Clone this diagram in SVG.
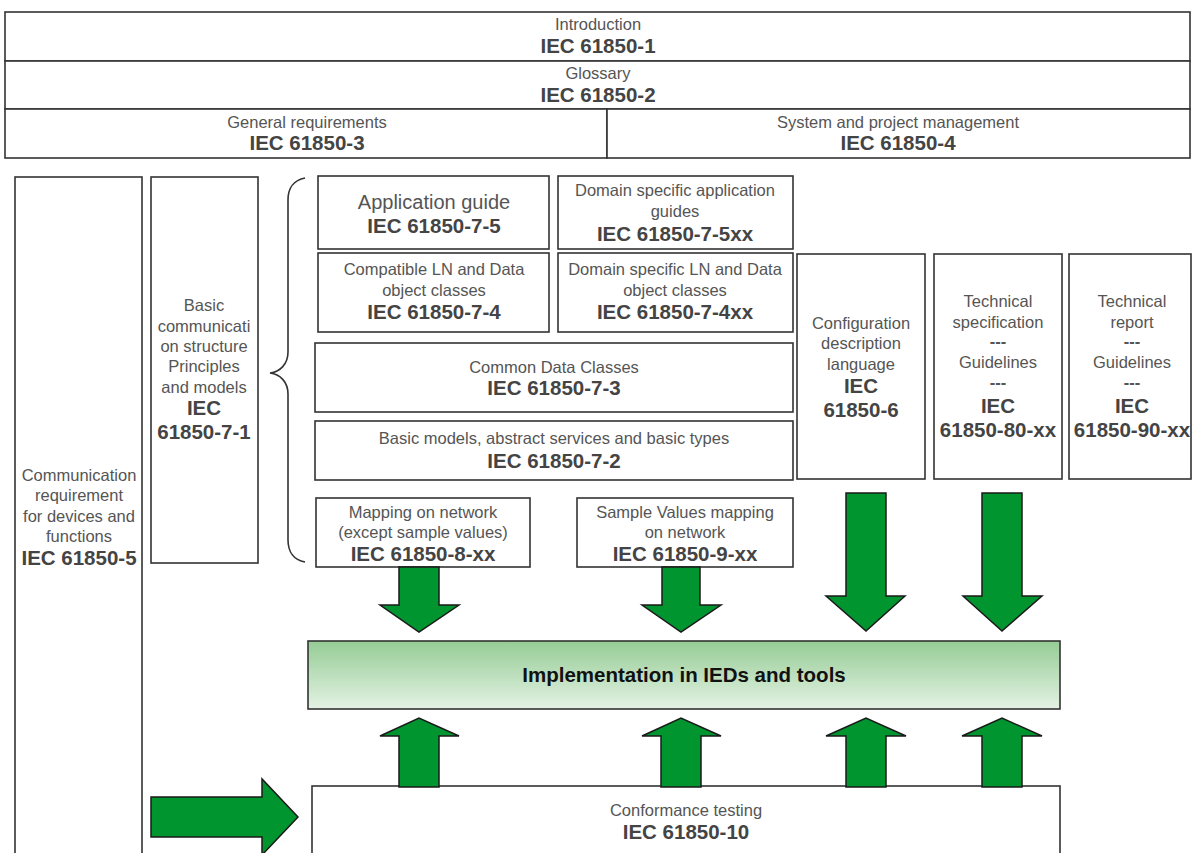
<svg xmlns="http://www.w3.org/2000/svg" width="1194" height="853" viewBox="0 0 1194 853">
<defs>
<linearGradient id="impl" x1="0" y1="0" x2="0" y2="1">
<stop offset="0" stop-color="#95cc95"/>
<stop offset="1" stop-color="#e4f2e4"/>
</linearGradient>
<style>
.box{fill:#fff;stroke:#333;stroke-width:1.6}
.t{font-family:"Liberation Sans",Arial,sans-serif;font-size:16.5px;fill:#555;text-anchor:middle}
.b{font-family:"Liberation Sans",Arial,sans-serif;font-size:20.5px;font-weight:bold;fill:#444;text-anchor:middle}
.d{font-family:"Liberation Sans",Arial,sans-serif;font-size:16.5px;font-weight:bold;fill:#555;text-anchor:middle}
.arr{fill:#00952f;stroke:#1a1a1a;stroke-width:1.5;stroke-linejoin:miter}
</style>
</defs>
<rect width="1194" height="853" fill="#fff"/>

<g id="intro">
<rect class="box" x="5" y="12" width="1185" height="49"/>
<text class="t" x="598" y="30">Introduction</text>
<text class="b" x="598" y="53">IEC 61850-1</text>
</g>
<g id="glossary">
<rect class="box" x="5" y="61" width="1185" height="48"/>
<text class="t" x="598" y="79">Glossary</text>
<text class="b" x="598" y="102">IEC 61850-2</text>
</g>
<g id="general">
<rect class="box" x="5" y="109" width="602" height="49"/>
<text class="t" x="307" y="128">General requirements</text>
<text class="b" x="307" y="150">IEC 61850-3</text>
</g>
<g id="system">
<rect class="box" x="607" y="109" width="583" height="49"/>
<text class="t" x="898" y="128">System and project management</text>
<text class="b" x="898" y="150">IEC 61850-4</text>
</g>

<g id="comm-req">
<rect class="box" x="15" y="177" width="127" height="690"/>
<text class="t" x="79" y="481">Communication</text>
<text class="t" x="79" y="501">requirement</text>
<text class="t" x="79" y="522">for devices and</text>
<text class="t" x="79" y="542">functions</text>
<text class="b" x="79" y="565">IEC 61850-5</text>
</g>
<g id="basic-comm">
<rect class="box" x="151" y="177" width="107" height="386"/>
<text class="t" x="204" y="311">Basic</text>
<text class="t" x="204" y="332">communicati</text>
<text class="t" x="204" y="352">on structure</text>
<text class="t" x="204" y="372">Principles</text>
<text class="t" x="204" y="393">and models</text>
<text class="b" x="204" y="415">IEC</text>
<text class="b" x="204" y="439">61850-7-1</text>
</g>

<g id="brace">
<path d="M305,178 C294,180 288,188 288,200 L288,352 C288,364 280,372 270,373 C280,374 288,382 288,394 L288,540 C288,552 294,560 305,562" fill="none" stroke="#333" stroke-width="1.6"/>
</g>

<g id="app-guide">
<rect class="box" x="318" y="176" width="231" height="73"/>
<text class="t" x="434" y="209" style="font-size:20px">Application guide</text>
<text class="b" x="434" y="233">IEC 61850-7-5</text>
</g>
<g id="domain-app">
<rect class="box" x="558" y="176" width="235" height="73"/>
<text class="t" x="675" y="196">Domain specific application</text>
<text class="t" x="675" y="217">guides</text>
<text class="b" x="675" y="241">IEC 61850-7-5xx</text>
</g>
<g id="compat-ln">
<rect class="box" x="318" y="253" width="231" height="79"/>
<text class="t" x="434" y="275">Compatible LN and Data</text>
<text class="t" x="434" y="296">object classes</text>
<text class="b" x="434" y="319">IEC 61850-7-4</text>
</g>
<g id="domain-ln">
<rect class="box" x="558" y="253" width="235" height="79"/>
<text class="t" x="675" y="275">Domain specific LN and Data</text>
<text class="t" x="675" y="296">object classes</text>
<text class="b" x="675" y="319">IEC 61850-7-4xx</text>
</g>
<g id="cdc">
<rect class="box" x="315" y="343" width="478" height="69"/>
<text class="t" x="554" y="373">Common Data Classes</text>
<text class="b" x="554" y="395">IEC 61850-7-3</text>
</g>
<g id="basic-models">
<rect class="box" x="315" y="421" width="478" height="59"/>
<text class="t" x="554" y="444">Basic models, abstract services and basic types</text>
<text class="b" x="554" y="468">IEC 61850-7-2</text>
</g>
<g id="mapping">
<rect class="box" x="316" y="498" width="214" height="69"/>
<text class="t" x="423" y="518">Mapping on network</text>
<text class="t" x="423" y="538">(except  sample values)</text>
<text class="b" x="423" y="561">IEC 61850-8-xx</text>
</g>
<g id="sv">
<rect class="box" x="577" y="498" width="216" height="69"/>
<text class="t" x="685" y="518">Sample Values mapping</text>
<text class="t" x="685" y="538">on network</text>
<text class="b" x="685" y="561">IEC 61850-9-xx</text>
</g>
<g id="scl">
<rect class="box" x="797" y="254" width="128" height="225"/>
<text class="t" x="861" y="329">Configuration</text>
<text class="t" x="861" y="349">description</text>
<text class="t" x="861" y="370">language</text>
<text class="b" x="861" y="393">IEC</text>
<text class="b" x="861" y="417">61850-6</text>
</g>
<g id="ts">
<rect class="box" x="934" y="254" width="128" height="225"/>
<text class="t" x="998" y="307">Technical</text>
<text class="t" x="998" y="328">specification</text>
<text class="d" x="998" y="347">---</text>
<text class="t" x="998" y="368">Guidelines</text>
<text class="d" x="998" y="388">---</text>
<text class="b" x="998" y="413">IEC</text>
<text class="b" x="998" y="437">61850-80-xx</text>
</g>
<g id="tr">
<rect class="box" x="1069" y="254" width="122" height="225"/>
<text class="t" x="1132" y="307">Technical</text>
<text class="t" x="1132" y="328">report</text>
<text class="d" x="1132" y="347">---</text>
<text class="t" x="1132" y="368">Guidelines</text>
<text class="d" x="1132" y="388">---</text>
<text class="b" x="1132" y="413">IEC</text>
<text class="b" x="1132" y="437">61850-90-xx</text>
</g>

<g id="impl-box">
<rect x="308" y="641" width="752" height="68" fill="url(#impl)" stroke="#333" stroke-width="1.6"/>
<text class="b" x="684" y="682" style="fill:#111">Implementation in IEDs and tools</text>
</g>
<g id="conformance">
<rect class="box" x="312" y="786" width="748" height="80"/>
<text class="t" x="686" y="816">Conformance testing</text>
<text class="b" x="686" y="839">IEC 61850-10</text>
</g>

<g id="connectors">
<path class="arr" d="M399,567 L439,567 L439,605 L459,605 L419,632 L380,605 L399,605 Z"/>
<path class="arr" d="M662,567 L700,567 L700,605 L721,605 L681,632 L642,605 L662,605 Z"/>
<path class="arr" d="M846,493 L886,493 L886,596 L905,596 L866,631 L826,596 L846,596 Z"/>
<path class="arr" d="M982,493 L1022,493 L1022,596 L1042,596 L1002,631 L963,596 L982,596 Z"/>
<path class="arr" d="M399,787 L399,736 L380,736 L419,718 L459,736 L439,736 L439,787 Z"/>
<path class="arr" d="M661,787 L661,736 L642,736 L681,718 L721,736 L701,736 L701,787 Z"/>
<path class="arr" d="M846,787 L846,736 L826,736 L866,718 L906,736 L886,736 L886,787 Z"/>
<path class="arr" d="M982,787 L982,736 L962,736 L1002,718 L1042,736 L1022,736 L1022,787 Z"/>
<path class="arr" d="M151,797 L262,797 L262,779 L298,817 L262,855 L262,837 L151,837 Z"/>
</g>
</svg>
